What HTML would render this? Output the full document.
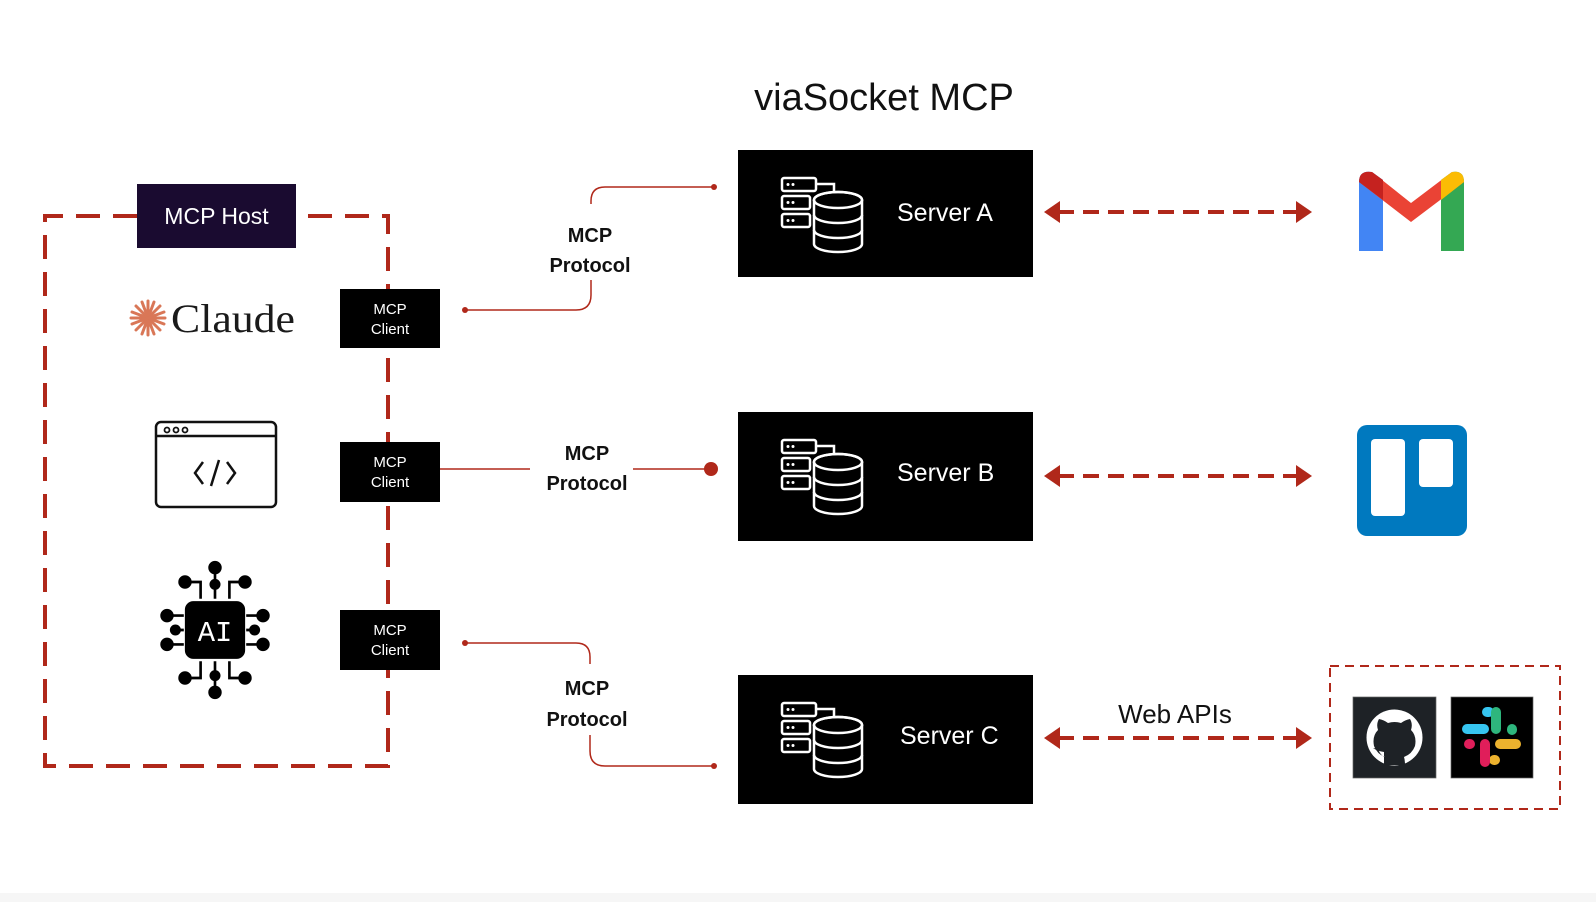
<!DOCTYPE html>
<html><head><meta charset="utf-8"><style>
html,body{margin:0;padding:0;background:#fff;}
svg{display:block;}
text{font-family:"Liberation Sans",sans-serif;}
</style></head><body>
<svg width="1596" height="902" viewBox="0 0 1596 902" xmlns="http://www.w3.org/2000/svg">
<rect width="1596" height="902" fill="#fff"/>
<rect x="0" y="893" width="1596" height="9" fill="#f6f6f6"/>
<text x="884" y="110" font-size="38" text-anchor="middle" fill="#111">viaSocket MCP</text>

<!-- host dashed box -->
<path d="M137 216 H45 V766 H388 V216 H296" fill="none" stroke="#b0281a" stroke-width="4" stroke-dasharray="24 13"/>
<rect x="137" y="184" width="159" height="64" fill="#1a0b30"/>
<text x="216.5" y="224" font-size="23" fill="#fff" text-anchor="middle">MCP Host</text>

<!-- clients -->
<g font-size="15" fill="#fff" text-anchor="middle">
<rect x="340" y="289" width="100" height="59" fill="#000"/>
<text x="390" y="314">MCP</text><text x="390" y="334">Client</text>
<rect x="340" y="442" width="100" height="60" fill="#000"/>
<text x="390" y="467">MCP</text><text x="390" y="487">Client</text>
<rect x="340" y="610" width="100" height="60" fill="#000"/>
<text x="390" y="635">MCP</text><text x="390" y="655">Client</text>
</g>

<!-- Claude -->
<g stroke="#d97757" stroke-width="3" stroke-linecap="round" transform="translate(148,318)">
<line x1="0" y1="-17" x2="0" y2="17"/><line x1="-17" y1="0" x2="17" y2="0"/>
<line x1="-12" y1="-12" x2="12" y2="12"/><line x1="-12" y1="12" x2="12" y2="-12"/>
<line x1="-6" y1="-16" x2="6" y2="16"/><line x1="6" y1="-16" x2="-6" y2="16"/>
<line x1="-16" y1="-6" x2="16" y2="6"/><line x1="-16" y1="6" x2="16" y2="-6"/>
</g>
<text x="171" y="332" font-size="40" fill="#1a1a1a" textLength="124" lengthAdjust="spacingAndGlyphs" style="font-family:'Liberation Serif',serif">Claude</text>

<!-- code window -->
<rect x="156" y="422" width="120" height="85" rx="5" fill="none" stroke="#111" stroke-width="2.5"/>
<line x1="156" y1="436" x2="276" y2="436" stroke="#111" stroke-width="2.5"/>
<circle cx="167" cy="430" r="2.5" fill="none" stroke="#111" stroke-width="1.8"/>
<circle cx="176" cy="430" r="2.5" fill="none" stroke="#111" stroke-width="1.8"/>
<circle cx="185" cy="430" r="2.5" fill="none" stroke="#111" stroke-width="1.8"/>
<path d="M203 462 L195 473 L203 484 M227 462 L235 473 L227 484 M219 460 L211 486" fill="none" stroke="#111" stroke-width="2.5"/>

<!-- AI chip -->
<g transform="translate(215,630) scale(1.2)" fill="#000" stroke="#000" stroke-width="2.2">
<path d="M-12 -26 V-40 H-25 M12 -26 V-40 H25 M0 -26 V-52 M-12 26 V40 H-25 M12 26 V40 H25 M0 26 V52 M-26 -12 H-40 M-26 12 H-40 M26 -12 H40 M26 12 H40 M-26 0 H-35 M26 0 H35 M0 -26 V-38" fill="none"/>
<circle cx="-25" cy="-40" r="4.5"/><circle cx="25" cy="-40" r="4.5"/><circle cx="0" cy="-52" r="4.5"/><circle cx="0" cy="-38" r="3.5"/>
<circle cx="-25" cy="40" r="4.5"/><circle cx="25" cy="40" r="4.5"/><circle cx="0" cy="52" r="4.5"/><circle cx="0" cy="38" r="3.5"/>
<circle cx="-40" cy="-12" r="4.5"/><circle cx="-40" cy="12" r="4.5"/><circle cx="40" cy="-12" r="4.5"/><circle cx="40" cy="12" r="4.5"/>
<circle cx="-33" cy="0" r="3.5"/><circle cx="33" cy="0" r="3.5"/>
<rect x="-24" y="-23" width="48" height="46" rx="6"/>
<text x="0" y="9" font-size="24" fill="#fff" stroke="none" text-anchor="middle" style="font-family:'Liberation Mono',monospace">AI</text>
</g>

<!-- connectors -->
<g fill="none" stroke="#b0281a" stroke-width="1.5">
<path d="M465 310 H576 Q591 310 591 295 V280"/>
<path d="M591 204 V201 Q591 187 605 187 H714"/>
<path d="M440 469 H530 M633 469 H711"/>
<path d="M465 643 H576 Q590 643 590 657 V664"/>
<path d="M590 735 V751 Q590 766 605 766 H714"/>
</g>
<g fill="#b0281a">
<circle cx="465" cy="310" r="3"/><circle cx="714" cy="187" r="3"/>
<circle cx="711" cy="469" r="7"/>
<circle cx="465" cy="643" r="3"/><circle cx="714" cy="766" r="3"/>
</g>
<g font-size="20" font-weight="bold" fill="#111" text-anchor="middle">
<text x="590" y="242">MCP</text><text x="590" y="272">Protocol</text>
<text x="587" y="460">MCP</text><text x="587" y="490">Protocol</text>
<text x="587" y="695">MCP</text><text x="587" y="726">Protocol</text>
</g>

<!-- servers -->
<defs>
<g id="srv" fill="none" stroke="#fff" stroke-width="2.5">
<rect x="0" y="0" width="34" height="13" rx="2"/>
<rect x="0" y="18" width="28" height="13" rx="2"/>
<rect x="0" y="36" width="28" height="13" rx="2"/>
<path d="M34 6 H52 V14"/>
<circle cx="6" cy="6.5" r="1.5" fill="#fff" stroke="none"/><circle cx="11" cy="6.5" r="1.5" fill="#fff" stroke="none"/>
<circle cx="6" cy="24.5" r="1.5" fill="#fff" stroke="none"/><circle cx="11" cy="24.5" r="1.5" fill="#fff" stroke="none"/>
<circle cx="6" cy="42.5" r="1.5" fill="#fff" stroke="none"/><circle cx="11" cy="42.5" r="1.5" fill="#fff" stroke="none"/>
<ellipse cx="56" cy="22" rx="24" ry="8" fill="#000"/>
<path d="M32 22 V66 A24 8 0 0 0 80 66 V22"  fill="#000"/>
<ellipse cx="56" cy="22" rx="24" ry="8"/>
<path d="M32 37 A24 8 0 0 0 80 37 M32 52 A24 8 0 0 0 80 52"/>
</g>
</defs>
<rect x="738" y="150" width="295" height="127" fill="#000"/>
<use href="#srv" x="782" y="178"/>
<text x="897" y="221" font-size="25" fill="#fff">Server A</text>
<rect x="738" y="412" width="295" height="129" fill="#000"/>
<use href="#srv" x="782" y="440"/>
<text x="897" y="481" font-size="25" fill="#fff">Server B</text>
<rect x="738" y="675" width="295" height="129" fill="#000"/>
<use href="#srv" x="782" y="703"/>
<text x="900" y="744" font-size="25" fill="#fff">Server C</text>

<!-- arrows -->
<g stroke="#b0281a" stroke-width="4" stroke-dasharray="16 9" fill="none">
<line x1="1058" y1="212" x2="1298" y2="212"/>
<line x1="1058" y1="476" x2="1298" y2="476"/>
<line x1="1058" y1="738" x2="1298" y2="738"/>
</g>
<g fill="#b0281a">
<path d="M1044 212 L1060 201 V223 Z"/><path d="M1312 212 L1296 201 V223 Z"/>
<path d="M1044 476 L1060 465 V487 Z"/><path d="M1312 476 L1296 465 V487 Z"/>
<path d="M1044 738 L1060 727 V749 Z"/><path d="M1312 738 L1296 727 V749 Z"/>
</g>
<text x="1175" y="723" font-size="26" fill="#111" text-anchor="middle">Web APIs</text>

<!-- gmail -->
<g>
<path d="M1359 251 V182 Q1359 170 1372 172 L1383 180 V251 Z" fill="#4285f4"/>
<path d="M1441 251 V180 L1452 172 Q1464 170 1464 182 V251 Z" fill="#34a853"/>
<path d="M1359 182 L1411 222 L1464 182 L1452 172 L1411 203 L1372 172 Z" fill="#ea4335"/>
<path d="M1359 182 Q1359 170 1372 172 L1383 180 V200 L1359 182Z" fill="#c5221f"/>
<path d="M1441 180 L1452 172 Q1464 170 1464 182 L1441 200 Z" fill="#fbbc04"/>
</g>

<!-- trello -->
<rect x="1357" y="425" width="110" height="111" rx="10" fill="#0079bf"/>
<rect x="1371" y="439" width="34" height="77" rx="4" fill="#fff"/>
<rect x="1419" y="439" width="34" height="48" rx="4" fill="#fff"/>

<!-- ext box -->
<rect x="1330" y="666" width="230" height="143" fill="none" stroke="#b0281a" stroke-width="2" stroke-dasharray="9 6"/>
<rect x="1353" y="697" width="83" height="81" fill="#1e2226" stroke="#666" stroke-width="0.7"/>
<circle cx="1394.5" cy="737.5" r="28" fill="#fff"/>
<path d="M1384 765 V752 Q1377 751 1373 748 Q1378 748 1380 753 Q1383 757 1385 757 Q1377 754 1374 746 Q1372 736 1378 730 Q1376 724 1379 719 Q1384 720 1388 723 Q1394.5 721 1401 723 Q1405 720 1410 719 Q1413 724 1411 730 Q1417 736 1415 746 Q1412 754 1404 757 Q1405 760 1405 765 Z" fill="#1e2226"/>
<rect x="1451" y="697" width="82" height="81" fill="#000" stroke="#666" stroke-width="0.7"/>
<g stroke-linecap="round" stroke-width="10">
<line x1="1467" y1="729" x2="1484" y2="729" stroke="#36c5f0"/><line x1="1487" y1="712" x2="1489" y2="712" stroke="#36c5f0"/>
<line x1="1496" y1="712" x2="1496" y2="729" stroke="#2eb67d"/><line x1="1512" y1="729" x2="1512" y2="730" stroke="#2eb67d"/>
<line x1="1500" y1="744" x2="1516" y2="744" stroke="#ecb22e"/><line x1="1494" y1="760" x2="1495" y2="760" stroke="#ecb22e"/>
<line x1="1485" y1="744" x2="1485" y2="762" stroke="#e01e5a"/><line x1="1469" y1="744" x2="1470" y2="744" stroke="#e01e5a"/>
</g>
</svg>
</body></html>
